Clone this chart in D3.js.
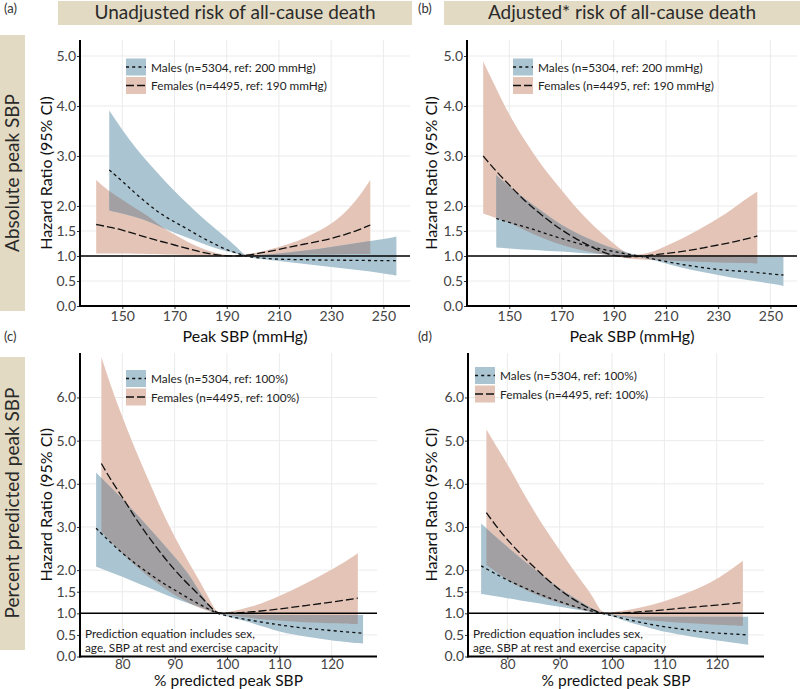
<!DOCTYPE html>
<html><head><meta charset="utf-8">
<script src="https://cdn.jsdelivr.net/npm/d3@7"></script>
<style>
body{margin:0;background:#fff}
text{font-family:Lato,"Open Sans",sans-serif}
</style>
</head><body>
<svg id="chart" width="800" height="689"></svg>
<script>
// ---------------- DATA ----------------
const stripTitles = ["Unadjusted risk of all-cause death", "Adjusted* risk of all-cause death"];
const rowTitles = ["Absolute peak SBP", "Percent predicted peak SBP"];
const panelLabels = ["(a)", "(b)", "(c)", "(d)"];
const yTitle = "Hazard Ratio (95% CI)";
const xTitles = ["Peak SBP (mmHg)", "% predicted peak SBP"];
const legendAbs = ["Males (n=5304, ref: 200 mmHg)", "Females (n=4495, ref: 190 mmHg)"];
const legendPct = ["Males (n=5304, ref: 100%)", "Females (n=4495, ref: 100%)"];
const noteLines = ["Prediction equation includes sex,", "age, SBP at rest and exercise capacity"];

const absXTicks = [150, 170, 190, 210, 230, 250];
const pctXTicks = [80, 90, 100, 110, 120];
const absYTicks = [0, 0.5, 1, 1.5, 2, 3, 4, 5];
const pctYTicks = [0, 0.5, 1, 1.5, 2, 3, 4, 5, 6];

// (a) unadjusted, absolute peak SBP
const aMaleX  = [145,150,155,160,165,170,175,180,185,190,195,197,200,205,210,215,220,225,230,235,240,245,250,255];
const aMaleHR = [2.72,2.50,2.25,2.03,1.83,1.68,1.54,1.38,1.25,1.12,1.04,1.0,0.975,0.95,0.935,0.93,0.925,0.92,0.918,0.915,0.912,0.91,0.908,0.905];
const aMaleHi = [3.91,3.52,3.17,2.86,2.57,2.30,2.04,1.80,1.57,1.36,1.12,1.0,1.01,1.03,1.05,1.08,1.11,1.14,1.18,1.22,1.26,1.30,1.34,1.39];
const aMaleLo = [1.91,1.85,1.78,1.70,1.57,1.46,1.37,1.26,1.17,1.09,1.03,1.0,0.96,0.93,0.90,0.87,0.84,0.81,0.78,0.75,0.72,0.69,0.65,0.61];
const aFemX  = [140,145,150,155,160,165,170,175,180,185,190,195,200,205,210,215,220,225,230,235,240,245];
const aFemHR = [1.63,1.58,1.52,1.44,1.36,1.29,1.22,1.15,1.08,1.03,1.0,1.0,1.03,1.08,1.13,1.19,1.24,1.29,1.35,1.42,1.51,1.62];
const aFemHi = [2.52,2.29,2.13,1.95,1.80,1.58,1.43,1.28,1.16,1.07,1.01,1.02,1.05,1.11,1.18,1.26,1.36,1.49,1.64,1.85,2.13,2.52];
const aFemLo = [1.05,1.05,1.05,1.045,1.04,1.035,1.03,1.02,1.01,1.0,1.0,0.99,1.0,1.01,1.015,1.02,1.025,1.03,1.03,1.035,1.04,1.04];

// (b) adjusted, absolute peak SBP
const bMaleX  = [145,150,155,160,165,170,175,180,185,190,195,200,205,210,215,220,225,230,235,240,245,250,255];
const bMaleHR = [1.75,1.67,1.60,1.52,1.43,1.35,1.27,1.20,1.14,1.09,1.04,1.0,0.94,0.89,0.84,0.80,0.76,0.73,0.71,0.69,0.67,0.64,0.62];
const bMaleHi = [2.62,2.39,2.18,1.99,1.80,1.62,1.48,1.35,1.24,1.15,1.07,1.0,0.98,0.98,0.98,0.98,0.98,0.98,0.98,0.98,0.98,0.98,0.98];
const bMaleLo = [1.17,1.15,1.13,1.12,1.10,1.09,1.07,1.05,1.04,1.02,1.01,0.99,0.92,0.85,0.78,0.72,0.67,0.62,0.57,0.53,0.49,0.45,0.40];
const bFemX  = [140,145,150,155,160,165,170,175,180,185,190,195,200,205,210,215,220,225,230,235,240,245];
const bFemHR = [3.0,2.69,2.42,2.15,1.92,1.71,1.52,1.36,1.22,1.09,1.0,0.98,0.99,1.02,1.05,1.08,1.12,1.17,1.22,1.27,1.33,1.40];
const bFemHi = [4.89,4.35,3.82,3.38,2.99,2.63,2.32,2.0,1.72,1.47,1.25,1.03,1.02,1.08,1.20,1.32,1.45,1.60,1.75,1.92,2.12,2.29];
const bFemLo = [1.85,1.76,1.67,1.54,1.42,1.31,1.22,1.15,1.09,1.04,1.0,0.95,0.93,0.92,0.91,0.90,0.89,0.88,0.87,0.865,0.86,0.85];

// (c) unadjusted, percent predicted peak SBP
const cMaleX  = [75,77.5,80,82.5,85,87.5,90,92.5,95,97,98,100,102.5,105,107.5,110,115,120,126];
const cMaleHR = [2.97,2.67,2.39,2.15,1.93,1.72,1.54,1.36,1.19,1.07,1.0,0.94,0.88,0.83,0.78,0.73,0.65,0.60,0.54];
const cMaleHi = [4.26,3.95,3.66,3.32,3.0,2.65,2.31,1.95,1.45,1.12,1.0,0.97,0.97,0.97,0.96,0.96,0.96,0.96,0.96];
const cMaleLo = [2.08,1.96,1.85,1.72,1.60,1.47,1.35,1.24,1.14,1.05,1.0,0.93,0.85,0.77,0.67,0.57,0.46,0.37,0.30];
const cFemX  = [76,78,80,82.5,85,87.5,90,92.5,95,97,98,100,105,110,115,120,125];
const cFemHR = [4.47,4.05,3.70,3.20,2.77,2.37,2.0,1.68,1.39,1.13,1.0,1.0,1.03,1.10,1.18,1.26,1.35];
const cFemHi = [6.94,6.20,5.55,4.78,4.09,3.38,2.77,2.22,1.70,1.25,1.0,1.02,1.15,1.39,1.69,2.0,2.39];
const cFemLo = [2.89,2.63,2.39,2.10,1.85,1.62,1.42,1.25,1.11,1.03,1.0,0.96,0.88,0.83,0.79,0.77,0.75];

// (d) adjusted, percent predicted peak SBP
const dMaleX  = [75,77.5,80,82.5,85,87.5,90,92.5,95,98,100,102.5,105,107.5,110,115,120,126];
const dMaleHR = [2.10,1.93,1.77,1.63,1.50,1.38,1.27,1.17,1.08,1.0,0.95,0.87,0.80,0.74,0.69,0.60,0.54,0.50];
const dMaleHi = [3.08,2.80,2.54,2.28,2.04,1.80,1.58,1.38,1.19,1.0,0.97,0.93,0.92,0.92,0.92,0.92,0.92,0.92];
const dMaleLo = [1.45,1.40,1.35,1.30,1.25,1.20,1.15,1.10,1.05,1.0,0.93,0.83,0.73,0.65,0.57,0.46,0.37,0.27];
const dFemX  = [76,78,80,82.5,85,87.5,90,92.5,95,97,98,100,105,110,115,120,125];
const dFemHR = [3.33,3.0,2.70,2.38,2.08,1.80,1.54,1.33,1.15,1.05,1.0,0.99,1.03,1.08,1.14,1.19,1.25];
const dFemHi = [5.26,4.85,4.47,3.90,3.39,2.90,2.47,2.02,1.62,1.25,1.0,1.02,1.11,1.27,1.50,1.77,2.22];
const dFemLo = [2.12,1.95,1.77,1.60,1.46,1.33,1.23,1.14,1.06,1.02,1.0,0.96,0.86,0.81,0.77,0.73,0.71];

// ---------------- STYLE ----------------
const COL_M = "#aac5d1", COL_F = "#e4c4b7", COL_OV = "#a2a0a2", STRIP = "#e3dac3";
const DASH_M = "3,3.2", DASH_F = "8,3";

const svg = d3.select("#chart");

function zip(x, hr, lo, hi){ return x.map((v,i)=>({x:v, hr:hr[i], lo:lo[i], hi:hi[i]})); }

const panels = [
  {id:"a", L:80,  R:410, T:40,  B:306,   xd:[133.8,260.2], yd:[0,5.32], xt:absXTicks, yt:absYTicks, xtitle:xTitles[0], leg:legendAbs,
   legX:126, legY:67, note:false, yTitleX:52,
   male:zip(aMaleX,aMaleHR,aMaleLo,aMaleHi), fem:zip(aFemX,aFemHR,aFemLo,aFemHi)},
  {id:"b", L:467, R:797, T:40,  B:306,   xd:[133.8,260.2], yd:[0,5.32], xt:absXTicks, yt:absYTicks, xtitle:xTitles[0], leg:legendAbs,
   legX:513, legY:67, note:false, yTitleX:437,
   male:zip(bMaleX,bMaleHR,bMaleLo,bMaleHi), fem:zip(bFemX,bFemHR,bFemLo,bFemHi)},
  {id:"c", L:80,  R:377, T:353, B:656.5, xd:[71.92,128.66], yd:[0,7.03], xt:pctXTicks, yt:pctYTicks, xtitle:xTitles[1], leg:legendPct,
   legX:126, legY:378.5, note:true, yTitleX:52,
   male:zip(cMaleX,cMaleHR,cMaleLo,cMaleHi), fem:zip(cFemX,cFemHR,cFemLo,cFemHi)},
  {id:"d", L:468, R:764, T:353, B:656.5, xd:[72.49,129.03], yd:[0,7.03], xt:pctXTicks, yt:pctYTicks, xtitle:xTitles[1], leg:legendPct,
   legX:475, legY:375.5, note:true, yTitleX:437,
   male:zip(dMaleX,dMaleHR,dMaleLo,dMaleHi), fem:zip(dFemX,dFemHR,dFemLo,dFemHi)}
];

// ---------------- STRIPS ----------------
svg.append("rect").attr("x",58).attr("y",1).attr("width",354).attr("height",24).attr("fill",STRIP);
svg.append("rect").attr("x",444).attr("y",1).attr("width",356).attr("height",24).attr("fill",STRIP);
svg.append("text").attr("x",235).attr("y",19).attr("text-anchor","middle").attr("font-size",19).attr("fill","#2a2a2a").text(stripTitles[0]);
svg.append("text").attr("x",622).attr("y",19).attr("text-anchor","middle").attr("font-size",19).attr("fill","#2a2a2a").text(stripTitles[1]);
svg.append("rect").attr("x",0).attr("y",35).attr("width",25).attr("height",276).attr("fill",STRIP);
svg.append("rect").attr("x",0).attr("y",357).attr("width",25).attr("height",293).attr("fill",STRIP);
svg.append("text").attr("transform","translate(19,173) rotate(-90)").attr("text-anchor","middle").attr("font-size",19).attr("fill","#2a2a2a").text(rowTitles[0]);
svg.append("text").attr("transform","translate(19,503) rotate(-90)").attr("text-anchor","middle").attr("font-size",19).attr("fill","#2a2a2a").text(rowTitles[1]);

// panel labels
[[4,13],[418,13],[4,341],[418,341]].forEach((p,i)=>{
  svg.append("text").attr("x",p[0]).attr("y",p[1]).attr("font-size",13).attr("fill","#333").text(panelLabels[i]);
});

// ---------------- PANELS ----------------
panels.forEach(p=>{
  const x = d3.scaleLinear().domain(p.xd).range([p.L,p.R]);
  const y = d3.scaleLinear().domain(p.yd).range([p.B,p.T]);
  const g = svg.append("g");
  const top = p.id < "c";

  // grid
  g.append("g").selectAll("line").data(p.xt).join("line")
    .attr("x1",d=>x(d)).attr("x2",d=>x(d)).attr("y1",p.T).attr("y2",p.B)
    .attr("stroke","#ebebeb").attr("stroke-width",1);
  g.append("g").selectAll("line").data(p.yt).join("line")
    .attr("x1",p.L).attr("x2",p.R).attr("y1",d=>y(d)).attr("y2",d=>y(d))
    .attr("stroke","#ebebeb").attr("stroke-width",1);

  const area = d3.area().x(d=>x(d.x)).y0(d=>y(d.lo)).y1(d=>y(d.hi)).curve(d3.curveBasis);
  const line = d3.line().x(d=>x(d.x)).y(d=>y(d.hr)).curve(d3.curveBasis);

  const femPath = area(p.fem), malePath = area(p.male);
  g.append("path").attr("d",femPath).attr("fill",COL_F);
  g.append("path").attr("d",malePath).attr("fill",COL_M);
  const cid = "clip"+p.id;
  svg.append("clipPath").attr("id",cid).append("path").attr("d",femPath);
  g.append("path").attr("d",malePath).attr("fill",COL_OV).attr("clip-path",`url(#${cid})`);

  // reference line at HR = 1
  g.append("line").attr("x1",p.L).attr("x2",p.R).attr("y1",y(1)).attr("y2",y(1))
    .attr("stroke","#000").attr("stroke-width",1.5);

  g.append("path").attr("d",line(p.fem)).attr("fill","none").attr("stroke","#111")
    .attr("stroke-width",1.3).attr("stroke-dasharray",DASH_F);
  g.append("path").attr("d",line(p.male)).attr("fill","none").attr("stroke","#111")
    .attr("stroke-width",1.3).attr("stroke-dasharray",DASH_M);

  // axes
  const ax = g.append("g").attr("transform",`translate(0,${p.B})`)
    .call(d3.axisBottom(x).tickValues(p.xt).tickSize(3).tickPadding(top ? 2 : 0).tickFormat(d3.format("d")));
  ax.select(".domain").remove();
  ax.selectAll("text").attr("font-size",top ? 14 : 13.5).attr("fill","#444").attr("font-family","Lato,'Open Sans',sans-serif");
  ax.selectAll("line").attr("stroke","#333");
  const ay = g.append("g").attr("transform",`translate(${p.L},0)`)
    .call(d3.axisLeft(y).tickValues(p.yt).tickSize(3).tickPadding(1).tickFormat(d3.format(".1f")));
  ay.select(".domain").remove();
  ay.selectAll("text").attr("font-size",14).attr("fill","#444").attr("font-family","Lato,'Open Sans',sans-serif");
  ay.selectAll("line").attr("stroke","#333");

  g.append("line").attr("x1",p.L).attr("x2",p.L).attr("y1",p.T).attr("y2",p.B+1)
    .attr("stroke","#000").attr("stroke-width",2);
  g.append("line").attr("x1",p.L-1).attr("x2",p.R).attr("y1",p.B).attr("y2",p.B)
    .attr("stroke","#000").attr("stroke-width",2);

  // axis titles
  g.append("text").attr("transform",`translate(${p.yTitleX},${(p.T+p.B)/2}) rotate(-90)`)
    .attr("text-anchor","middle").attr("font-size",16).attr("fill","#111").text(yTitle);
  g.append("text").attr("x",(p.L+p.R)/2).attr("y", top ? 342 : 686)
    .attr("text-anchor","middle").attr("font-size",top ? 16 : 15.5).attr("fill","#111").text(p.xtitle);

  // legend
  const keys = [{fill:COL_M, dash:DASH_M, label:p.leg[0]}, {fill:COL_F, dash:DASH_F, label:p.leg[1]}];
  keys.forEach((k,i)=>{
    const cy = p.legY + i*18.5;
    g.append("rect").attr("x",p.legX).attr("y",cy-8.5).attr("width",20).attr("height",17).attr("fill",k.fill);
    g.append("line").attr("x1",p.legX).attr("x2",p.legX+20).attr("y1",cy).attr("y2",cy)
      .attr("stroke","#111").attr("stroke-width",1.3).attr("stroke-dasharray",k.dash);
    g.append("text").attr("x",p.legX+25).attr("y",cy+4.5).attr("font-size",11.8).attr("fill","#222").text(k.label);
  });

  if(p.note){
    noteLines.forEach((t,i)=>{
      g.append("text").attr("x",p.L+5).attr("y",638+i*14).attr("font-size",11.8).attr("fill","#222").text(t);
    });
  }
});
</script>
</body></html>
